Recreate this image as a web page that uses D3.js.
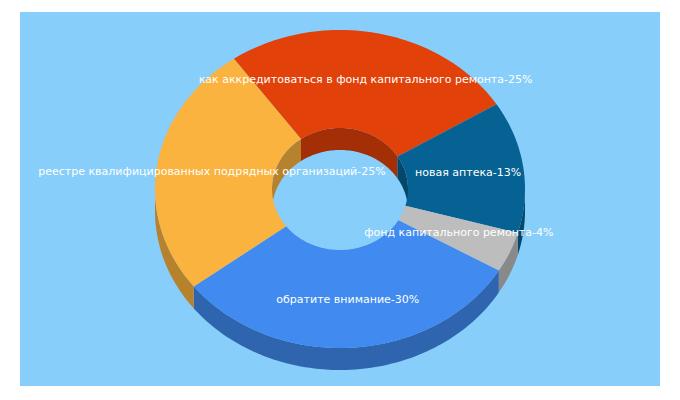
<!DOCTYPE html>
<html><head><meta charset="utf-8">
<script src="https://d3js.org/d3.v7.min.js"></script>
<style>body{margin:0;background:#fff}</style></head>
<body><svg id="c" width="680" height="400"></svg>
<script>
const categories = ["как аккредитоваться в фонд капитального ремонта","новая аптека","фонд капитального ремонта","обратите внимание","реестре квалифицированных подрядных организаций"];
const values = [25,13,4,30,25];
const colors = ["#E2410A","#066293","#BDBDBD","#418BF0","#FBB33F"];

const svg = d3.select("#c");
svg.append("rect").attr("x",20).attr("y",12).attr("width",640).attr("height",374).attr("fill","#87CEFA");
const cx=340, cy=189, rx=185, ry=159, irx=68, iry=61, depth=22;
const pie = d3.pie().sort(null).startAngle(-35*Math.PI/180).endAngle(325*Math.PI/180);
const arcs = pie(values);
const P=(a,r1,r2,dy)=>[cx+r1*Math.sin(a), cy-r2*Math.cos(a)+dy];
const line=d3.line();
function ring(a0,a1,r1,r2,dyTop,dyBot){
  const n=Math.max(2,Math.ceil((a1-a0)*40)), pts=[];
  for(let i=0;i<=n;i++){const a=a0+(a1-a0)*i/n;pts.push(P(a,r1,r2,dyTop));}
  for(let i=n;i>=0;i--){const a=a0+(a1-a0)*i/n;pts.push(P(a,r1,r2,dyBot));}
  return line(pts)+"Z";
}
function clipRange(a0,a1,lo,hi){const s=Math.max(a0,lo),e=Math.min(a1,hi);return s<e?[s,e]:null;}
const g=svg.append("g");
// outer walls (front half: angles PI/2..3PI/2)
arcs.forEach((d,i)=>{
  [[Math.PI/2,1.5*Math.PI],[-1.5*Math.PI,-Math.PI/2]].forEach(([lo,hi])=>{
    const r=clipRange(d.startAngle,d.endAngle,lo,hi);
    if(r) g.append("path").attr("d",ring(r[0],r[1],rx,ry,0,depth)).attr("fill",d3.color(colors[i]).darker(0.9));
  });
});
// inner walls (back half of hole)
arcs.forEach((d,i)=>{
  [[-Math.PI/2,Math.PI/2],[1.5*Math.PI,2.5*Math.PI]].forEach(([lo,hi])=>{
    const r=clipRange(d.startAngle,d.endAngle,lo,hi);
    if(r) g.append("path").attr("d",ring(r[0],r[1],irx,iry,0,depth)).attr("fill",d3.color(colors[i]).darker(0.9));
  });
});
// top faces
arcs.forEach((d,i)=>{
  const n=Math.ceil((d.endAngle-d.startAngle)*40), pts=[];
  for(let k=0;k<=n;k++){const a=d.startAngle+(d.endAngle-d.startAngle)*k/n;pts.push(P(a,rx,ry,0));}
  for(let k=n;k>=0;k--){const a=d.startAngle+(d.endAngle-d.startAngle)*k/n;pts.push(P(a,irx,iry,0));}
  g.append("path").attr("d",line(pts)+"Z").attr("fill",colors[i]);
});
// labels
arcs.forEach((d,i)=>{
  const m=(d.startAngle+d.endAngle)/2;
  const [x,y]=P(m,rx*0.7,ry*0.7,0);
  g.append("text").attr("x",x).attr("y",y).attr("text-anchor","middle").attr("dominant-baseline","middle")
   .attr("fill","#fff").attr("font-family","DejaVu Sans, Verdana, sans-serif").attr("font-size",11)
   .text(categories[i]+"-"+values[i]+"%");
});
</script></body></html>
